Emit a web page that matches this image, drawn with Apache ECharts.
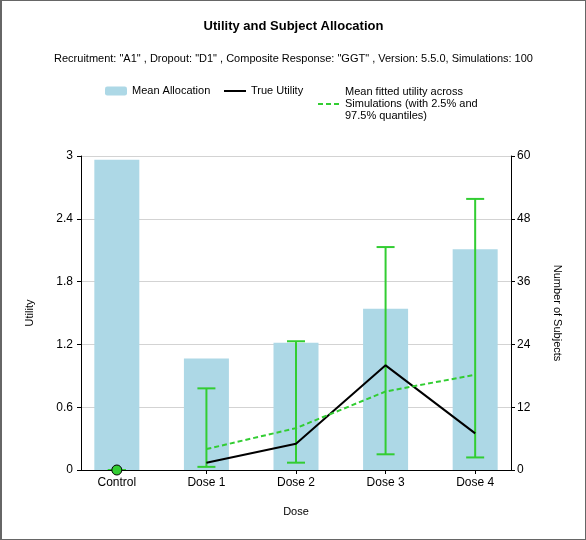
<!DOCTYPE html>
<html>
<head>
<meta charset="utf-8">
<script src="https://cdn.jsdelivr.net/npm/echarts@6/dist/echarts.min.js"></script>
<style>
  html, body { margin: 0; padding: 0; background: #fff; }
  #chart { width: 586px; height: 540px; box-sizing: border-box; border: 1px solid #666; border-left-width: 2px; }
</style>
</head>
<body>
<div id="chart"></div>
<script>
// dose groups along the x axis
var categories = ['Control', 'Dose 1', 'Dose 2', 'Dose 3', 'Dose 4'];
// mean subjects per arm (right axis)
var allocation = [59.3, 21.3, 24.3, 30.8, 42.2];
// utility (left axis)
var trueUtility = [null, 0.07, 0.25, 1.0, 0.35];
var meanFitted = [null, 0.2, 0.4, 0.75, 0.91];
var lowerQ = [0, 0.03, 0.07, 0.15, 0.12];
var upperQ = [0, 0.78, 1.23, 2.13, 2.59];
var controlUtility = 0;

var green = '#32cd32';
var fitName = 'Mean fitted utility across\nSimulations (with 2.5% and\n97.5% quantiles)';
var font = 'Liberation Sans, Arial, sans-serif';

var chart = echarts.init(document.getElementById('chart'));

var barData = [], trueData = [], fitData = [], errData = [];
for (var i = 0; i < categories.length; i++) {
    barData.push([i, allocation[i]]);
    if (trueUtility[i] != null) trueData.push([i, trueUtility[i]]);
    if (meanFitted[i] != null) fitData.push([i, meanFitted[i]]);
    errData.push([i, lowerQ[i], upperQ[i]]);
}
var ticks = categories.map(function (c, i) { return i; });

var legendBase = {
    orient: 'horizontal',
    padding: 0,
    itemGap: 10,
    itemWidth: 22,
    itemHeight: 9,
    selectedMode: false,
    textStyle: { fontFamily: font, fontSize: 11, color: '#000', lineHeight: 12 }
};

var option = {
    animation: false,
    textStyle: { fontFamily: font },
    title: [{
        text: 'Utility and Subject Allocation',
        left: 'center',
        top: 14,
        textStyle: { fontFamily: font, fontSize: 13, fontWeight: 'bold', color: '#000' }
    }, {
        text: 'Recruitment: "A1" , Dropout: "D1" , Composite Response: "GGT" , Version: 5.5.0, Simulations: 100',
        left: 'center',
        top: 47,
        textStyle: { fontFamily: font, fontSize: 11, fontWeight: 'normal', color: '#000' }
    }],
    legend: [
        Object.assign({}, legendBase, { left: 103, top: 84, data: ['Mean Allocation'] }),
        Object.assign({}, legendBase, { left: 221, top: 84, itemStyle: { opacity: 0 }, data: ['True Utility'] }),
        Object.assign({}, legendBase, { left: 315, top: 85, itemStyle: { opacity: 0 }, data: [fitName] })
    ],
    grid: { left: 79, right: 74, top: 155, bottom: 69 },
    xAxis: {
        type: 'value',
        min: -0.4,
        max: 4.4,
        name: 'Dose',
        nameLocation: 'middle',
        nameGap: 36,
        nameTextStyle: { fontFamily: font, fontSize: 11, color: '#000' },
        axisLine: { show: true, onZero: false, lineStyle: { color: '#000', width: 1 } },
        axisTick: { show: true, customValues: ticks, length: 4, lineStyle: { color: '#000' } },
        axisLabel: {
            customValues: ticks,
            margin: 7,
            fontSize: 12,
            color: '#000',
            formatter: function (v) { return categories[Math.round(v)]; }
        },
        splitLine: { show: false }
    },
    yAxis: [{
        type: 'value',
        min: 0,
        max: 3,
        interval: 0.6,
        name: 'Utility',
        nameLocation: 'middle',
        nameRotate: 90,
        nameGap: 46,
        nameTextStyle: { fontFamily: font, fontSize: 11, color: '#000' },
        axisLine: { show: true, onZero: false, lineStyle: { color: '#000' } },
        axisTick: { show: true, length: 4, lineStyle: { color: '#000' } },
        axisLabel: { margin: 8, fontSize: 12, color: '#000' },
        splitLine: { show: true, lineStyle: { color: '#d3d3d3' } }
    }, {
        type: 'value',
        position: 'right',
        min: 0,
        max: 60,
        interval: 12,
        name: 'Number of Subjects',
        nameLocation: 'middle',
        nameRotate: -90,
        nameGap: 41,
        nameTextStyle: { fontFamily: font, fontSize: 11, color: '#000' },
        axisLine: { show: true, onZero: false, lineStyle: { color: '#000' } },
        axisTick: { show: true, length: 4, lineStyle: { color: '#000' } },
        axisLabel: { margin: 6, fontSize: 12, color: '#000' },
        splitLine: { show: false }
    }],
    series: [{
        name: 'Mean Allocation',
        type: 'bar',
        yAxisIndex: 1,
        barWidth: 45,
        itemStyle: { color: '#add8e6' },
        data: barData
    }, {
        name: 'errors',
        type: 'custom',
        yAxisIndex: 0,
        clip: true,
        encode: { x: 0, y: [1, 2] },
        renderItem: function (params, api) {
            var x = api.value(0);
            var lo = api.coord([x, api.value(1)]);
            var hi = api.coord([x, api.value(2)]);
            var half = 9;
            var st = { stroke: green, lineWidth: 2 };
            return {
                type: 'group',
                children: [
                    { type: 'line', shape: { x1: lo[0], y1: lo[1], x2: hi[0], y2: hi[1] }, style: st },
                    { type: 'line', shape: { x1: lo[0] - half, y1: lo[1], x2: lo[0] + half, y2: lo[1] }, style: st },
                    { type: 'line', shape: { x1: hi[0] - half, y1: hi[1], x2: hi[0] + half, y2: hi[1] }, style: st }
                ]
            };
        },
        data: errData,
        z: 3
    }, {
        name: 'True Utility',
        type: 'line',
        yAxisIndex: 0,
        symbol: 'none',
        lineStyle: { color: '#000', width: 2 },
        itemStyle: { color: '#000' },
        data: trueData,
        z: 4
    }, {
        name: fitName,
        type: 'line',
        yAxisIndex: 0,
        symbol: 'none',
        lineStyle: { color: green, width: 2, type: [5, 3] },
        itemStyle: { color: green },
        data: fitData,
        z: 5
    }, {
        name: 'control',
        type: 'scatter',
        yAxisIndex: 0,
        symbolSize: 10,
        itemStyle: { color: green, borderColor: '#000', borderWidth: 1, opacity: 1 },
        data: [[0, controlUtility]],
        z: 6
    }]
};
chart.setOption(option);
</script>
</body>
</html>
